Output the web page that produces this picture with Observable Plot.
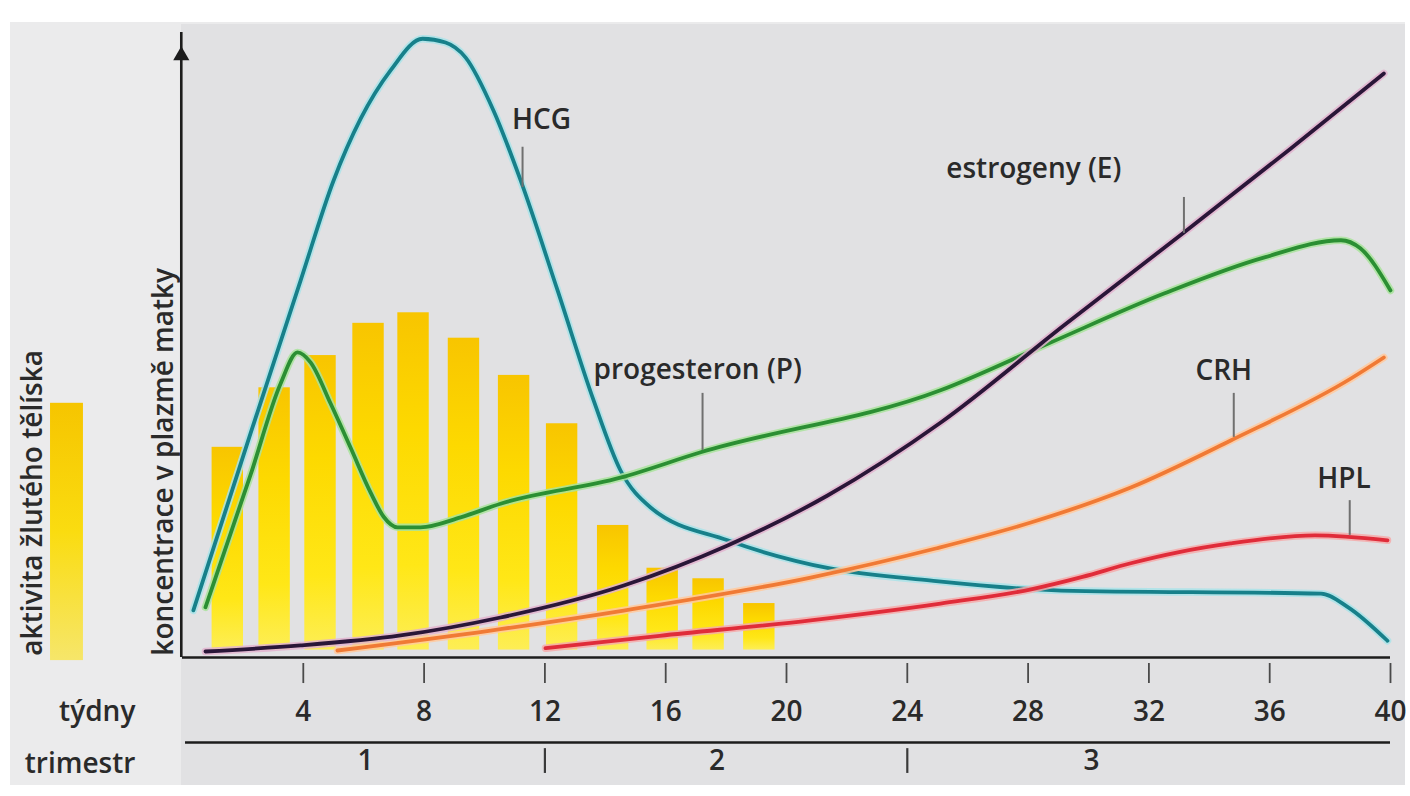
<!DOCTYPE html>
<html>
<head>
<meta charset="utf-8">
<script src="https://cdn.jsdelivr.net/npm/d3@7"></script>
<script src="https://cdn.jsdelivr.net/npm/@observablehq/plot@0.6"></script>
<style>
  html, body { margin: 0; padding: 0; background: #ffffff; }
  #wrap { position: relative; width: 1410px; height: 796px; overflow: hidden; }
  .bg1 { position: absolute; left: 10px; top: 22px; width: 1395px; height: 763px; background: #ebebec; }
  .bg2 { position: absolute; left: 181px; top: 24px; width: 1224px; height: 761px; background: #e1e1e3; }
  #chart { position: absolute; left: 0; top: 0; }
</style>
</head>
<body>
<div id="wrap">
  <div class="bg1"></div>
  <div class="bg2"></div>
  <div id="chart"></div>
</div>
<script>
// ---- data (weeks of pregnancy, relative level 0–100) ----
const weekTicks = [4, 8, 12, 16, 20, 24, 28, 32, 36, 40];
const trimesterLabels = ["1", "2", "3"];
const trimesterCenters = [6.06, 17.7, 30.1];
const trimesterBounds = [12, 24];

// corpus luteum activity bars
const barWeeks = [1.5, 3.05, 4.57, 6.16, 7.65, 9.32, 10.98, 12.57, 14.26, 15.9, 17.42, 19.1];
const barActivity = [33.9, 43.5, 48.7, 53.9, 55.6, 51.5, 45.5, 37.7, 21.3, 14.4, 12.7, 8.7];

// hormone curves: [week, level]
const hcg = [[0.36, 7.6], [2.25, 36.1], [3.91, 60.8], [5.0, 76.9], [5.9, 86.9], [6.89, 94.7], [7.95, 99.8],
  [8.71, 99.2], [9.37, 96.8], [10.3, 88.2], [11.2, 76.9], [12.42, 59.2], [13.61, 41.5], [14.5, 30.2],
  [15.5, 24.2], [18.05, 18.9], [21.4, 14.4], [24.8, 12.4], [29.1, 10.8], [37.7, 10.3], [38.6, 8.1], [39.9, 2.7]];
const progesteron = [[0.76, 8.1], [2.25, 29.4], [3.25, 44.2], [3.81, 49.2], [4.24, 47.6], [4.9, 41.0],
  [5.56, 33.9], [6.23, 26.6], [6.66, 22.7], [7.12, 21.0], [7.88, 21.0], [9.21, 22.6], [10.53, 24.8], [14.5, 29.0],
  [17.16, 33.1], [25.1, 43.1], [28.65, 50.6], [32.5, 58.7], [35.8, 64.5], [38.36, 67.3], [39.0, 66.0], [40.0, 59.2]];
const estrogeny = [[0.76, 0.97], [3.91, 1.94], [7.22, 3.55], [10.53, 6.45], [14.61, 11.61], [18.05, 18.06],
  [21.36, 26.13], [25.11, 37.9], [29.18, 53.55], [33.16, 68.55], [36.7, 82.1], [39.78, 94.2]];
const crh = [[5.13, 1.13], [10.2, 4.35], [14.61, 7.58], [20.8, 12.9], [24.94, 17.58], [28.09, 21.77],
  [31.4, 27.42], [34.71, 35.0], [38.69, 45.0], [39.78, 48.39]];
const hpl = [[12.02, 1.5], [15.8, 3.5], [20.8, 6.0], [25.1, 8.7], [28.1, 11.0], [29.8, 13.0], [31.4, 15.2],
  [33.0, 17.0], [34.7, 18.4], [37.5, 19.7], [39.9, 18.9]];

// series labels with leader lines: text anchor (week, level) and leader (week, from, to)
const labelTexts = ["HCG", "progesteron (P)", "estrogeny (E)", "CRH", "HPL"];
const labelWeeks = [11.89, 17.06, 28.19, 34.48, 38.46];
const labelLevels = [85.3, 45.0, 77.4, 44.7, 27.4];
const labelAnchors = ["middle", "start", "start", "start", "start"];
const leaderWeeks = [11.26, 17.22, 33.16, 34.81, 38.65];
const leaderTop = [82.3, 42.6, 74.2, 42.6, 25.3];
const leaderBottom = [75.8, 33.4, 68.4, 35.5, 19.7];

const yTitle = "koncentrace v plazmě matky";
const barTitle = "aktivita žlutého tělíska";
const xTitle = "týdny";
const trimesterTitle = "trimestr";

// ---- build ----
const rows = arr => arr.map(([w, v]) => ({w, v}));
const bars = barWeeks.map((w, i) => ({w, v: barActivity[i]}));
const labels = labelTexts.map((t, i) => ({t, w: labelWeeks[i], v: labelLevels[i], a: labelAnchors[i]}));
const leaders = leaderWeeks.map((w, i) => ({w, y1: leaderTop[i], y2: leaderBottom[i]}));
const trim = trimesterLabels.map((t, i) => ({t, w: trimesterCenters[i]}));

const series = [
  {d: hcg, c: "#17808a", h: "#a9e3e9"},
  {d: hpl, c: "#e02c3a", h: "#f5aaaa"},
  {d: crh, c: "#f07a35", h: "#ffc99e"},
  {d: progesteron, c: "#2b8f33", h: "#a9e39c"},
  {d: estrogeny, c: "#2a1638", h: "#e2b3cf"}
];

const font = 28;
const txt = "#2a2a2a";

const marks = [
  // legend swatch
  Plot.rect([0], {x1: -4.37, x2: -3.28, y1: -0.5, y2: 41, fill: "url(#legGrad)"}),
  // bars
  Plot.rectY(bars, {x1: d => d.w - 0.52, x2: d => d.w + 0.52, y1: 1.2, y2: "v", fill: "url(#barGrad)"}),
];
for (const s of series) {
  marks.push(Plot.line(rows(s.d), {x: "w", y: "v", curve: "monotone-x", stroke: s.h, strokeWidth: 7.5, strokeOpacity: 0.85}));
  marks.push(Plot.line(rows(s.d), {x: "w", y: "v", curve: "monotone-x", stroke: s.c, strokeWidth: 3.8}));
}
marks.push(
  // axes
  Plot.ruleY([0], {x1: 0, x2: 40, stroke: "#1c1c1c", strokeWidth: 2.6}),
  Plot.ruleX([0], {x: -0.04, y1: 0, y2: 100.8, stroke: "#1c1c1c", strokeWidth: 2.6}),
  Plot.dot([0], {x: -0.04, y: 97.1, symbol: "triangle", r: 6, fill: "#1c1c1c", stroke: null}),
  Plot.ruleX(weekTicks, {x: d => d, y1: -0.97, y2: -4.2, stroke: "#4a4a4a", strokeWidth: 1.8}),
  Plot.text(weekTicks, {x: d => d, y: 0, dy: 63, text: d => String(d), lineAnchor: "bottom", fontSize: font, fontWeight: 600, fill: txt}),
  Plot.text([xTitle], {x: -1.56, y: 0, dy: 63, text: d => d, textAnchor: "end", lineAnchor: "bottom", fontSize: font, fontWeight: 600, fill: txt}),
  // trimester row
  Plot.ruleY([0], {x1: 0.1, x2: 40, dy: 85, stroke: "#1c1c1c", strokeWidth: 2.6}),
  Plot.ruleX(trimesterBounds, {x: d => d, y1: -14.7, y2: -18.7, stroke: "#3a3a3a", strokeWidth: 2.2}),
  Plot.text(trim, {x: "w", y: 0, dy: 112, text: "t", lineAnchor: "bottom", fontSize: font, fontWeight: 600, fill: txt}),
  Plot.text([trimesterTitle], {x: -1.56, y: 0, dy: 115, text: d => d, textAnchor: "end", lineAnchor: "bottom", fontSize: font, fontWeight: 600, fill: txt}),
  // vertical titles
  Plot.text([yTitle], {x: -0.33, y: 0.3, text: d => d, rotate: -90, textAnchor: "start", lineAnchor: "bottom", fontSize: font, fontWeight: 600, fill: txt}),
  Plot.text([barTitle], {x: -4.64, y: 0.3, text: d => d, rotate: -90, textAnchor: "start", lineAnchor: "bottom", fontSize: font, fontWeight: 600, fill: txt}),
  // series labels
  Plot.ruleX(leaders, {x: "w", y1: "y1", y2: "y2", stroke: "#707070", strokeWidth: 2}),
  Plot.text(labels, {x: "w", y: "v", text: "t", textAnchor: d => d.a, lineAnchor: "bottom", fontSize: font, fontWeight: 600, fill: txt})
);

const chart = Plot.plot({
  width: 1410,
  height: 796,
  marginLeft: 182,
  marginRight: 20,
  marginTop: 37,
  marginBottom: 139,
  x: {domain: [0, 40], axis: null},
  y: {domain: [0, 100], axis: null},
  style: {background: "transparent", fontFamily: "'Open Sans', 'Noto Sans', sans-serif", overflow: "visible"},
  marks
});

const defs = d3.select(chart).insert("defs", ":first-child");
const bg = defs.append("linearGradient").attr("id", "barGrad").attr("x1", 0).attr("y1", 0).attr("x2", 0).attr("y2", 1);
bg.append("stop").attr("offset", "0%").attr("stop-color", "#f8c500");
bg.append("stop").attr("offset", "35%").attr("stop-color", "#fdd900");
bg.append("stop").attr("offset", "75%").attr("stop-color", "#ffe717");
bg.append("stop").attr("offset", "100%").attr("stop-color", "#fdee55");
const lg = defs.append("linearGradient").attr("id", "legGrad").attr("x1", 0).attr("y1", 0).attr("x2", 0).attr("y2", 1);
lg.append("stop").attr("offset", "0%").attr("stop-color", "#f6c500");
lg.append("stop").attr("offset", "50%").attr("stop-color", "#fadc10");
lg.append("stop").attr("offset", "100%").attr("stop-color", "#f6e66a");

document.getElementById("chart").appendChild(chart);
</script>
</body>
</html>
